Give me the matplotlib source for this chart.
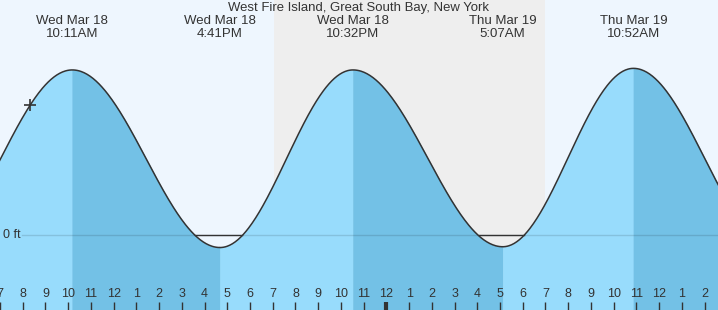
import numpy as np
import matplotlib.pyplot as plt

plt.rcParams['font.family'] = ['Liberation Sans', 'DejaVu Sans']

titulo = "West Fire Island, Great South Bay, New York"

# horas contadas a partir de 00:00 de Wed Mar 18
event_hours = [3.87, 10.18, 16.68, 22.53, 29.12, 34.87, 41.10]
event_heights = [-0.16, 2.10, -0.16, 2.10, -0.15, 2.12, -0.15]
event_days = ["", "Wed Mar 18", "Wed Mar 18", "Wed Mar 18", "Thu Mar 19", "Thu Mar 19", ""]
event_times = ["", "10:11AM", "4:41PM", "10:32PM", "5:07AM", "10:52AM", ""]

sunset = 19.07
sunrise = 31.0
now_hour = 8.32

hour_ticks = list(range(7, 39))
hour_labels = [str(h % 12 or 12) for h in hour_ticks]

x_start, x_end = 7.0, 38.59
y_min, y_max = -0.955, 2.99

cor_sobe = '#98dcfc'
cor_desce = '#73c1e6'
cor_texto = '#333333'

fig = plt.figure(figsize=(7.18, 3.10), dpi=100)
ax = fig.add_axes([0, 0, 1, 1])
ax.set_xlim(x_start, x_end)
ax.set_ylim(y_min, y_max)
ax.set_facecolor('#eef6fe')
ax.axvspan(sunset, sunrise, color='#eeeeee', lw=0, zorder=0)

# curva da maré entre preamar e baixa-mar
curva_x, curva_y = [], []
for i in range(len(event_hours) - 1):
    t0, t1 = event_hours[i], event_hours[i + 1]
    h0, h1 = event_heights[i], event_heights[i + 1]
    t = np.linspace(t0, t1, 150)
    h = h0 + (h1 - h0) * (1 - np.cos(np.pi * (t - t0) / (t1 - t0))) / 2
    cor = cor_sobe if h1 > h0 else cor_desce
    ax.fill_between(t, h, y_min, color=cor, lw=0.4, edgecolor=cor, zorder=1)
    curva_x.append(t)
    curva_y.append(h)

x = np.concatenate(curva_x)
y = np.concatenate(curva_y)
ax.plot(x, y, color=cor_texto, lw=1.1, zorder=3)

# linha do zero
ax.axhline(0, xmin=22 / 718, color='black', alpha=0.12, lw=1, zorder=2)
ax.plot(x, np.where(y < 0, 0, np.nan), color=cor_texto, lw=1, zorder=3)
ax.text(0.004, 0, "0 ft", transform=ax.get_yaxis_transform(), ha='left', va='center',
        fontsize=9, color=cor_texto)

# hora atual
ax.plot([now_hour], [np.interp(now_hour, x, y)], marker='+', color=cor_texto,
        markersize=8, markeredgewidth=1.2, zorder=4)

# textos do topo
ax.text(0.5, 1 - 11 / 310, titulo, transform=ax.transAxes, ha='center', va='baseline',
        fontsize=9.45, color=cor_texto)
for hr, dia, hora in zip(event_hours, event_days, event_times):
    if dia:
        ax.text(hr, 1 - 24 / 310, dia, transform=ax.get_xaxis_transform(), ha='center',
                va='baseline', fontsize=9.5, color=cor_texto)
        ax.text(hr, 1 - 37 / 310, hora, transform=ax.get_xaxis_transform(), ha='center',
                va='baseline', fontsize=9.5, color=cor_texto)

# eixo das horas
ax.set_xticks(hour_ticks)
ax.set_xticklabels(hour_labels)
ax.tick_params(axis='x', direction='in', length=6, width=1, color=cor_texto, pad=-16,
               labelsize=9, labelcolor=cor_texto)
for tick, h in zip(ax.xaxis.get_major_ticks(), hour_ticks):
    if h % 24 == 0:
        tick.tick1line.set_markeredgewidth(3)
ax.set_yticks([])
for s in ax.spines.values():
    s.set_visible(False)

fig.savefig('out.png', dpi=100)
